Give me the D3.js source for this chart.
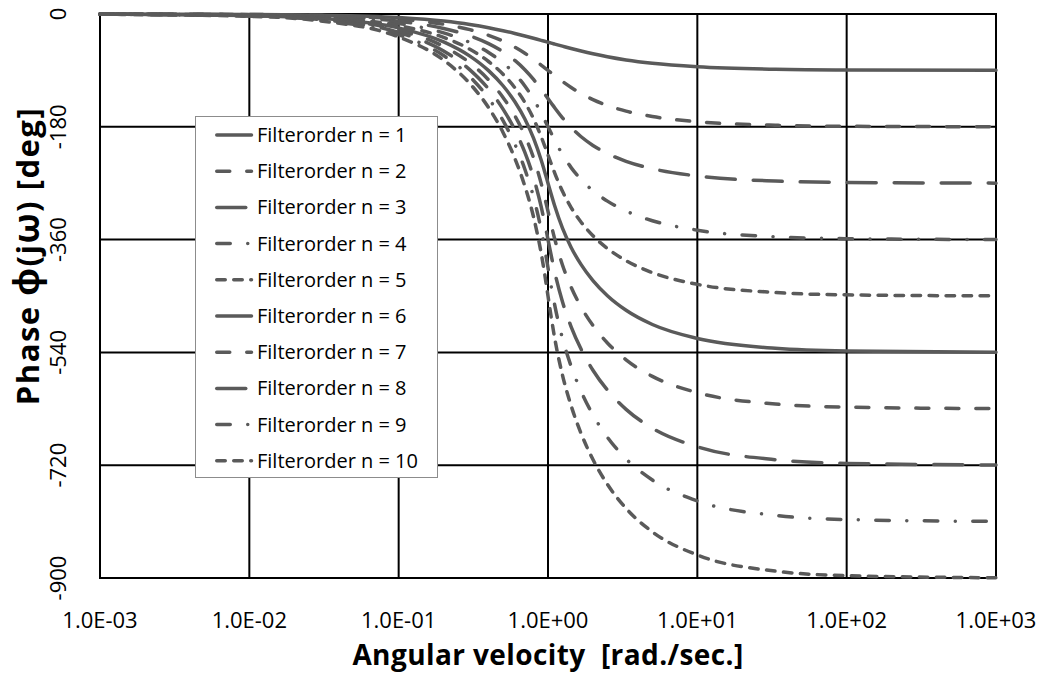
<!DOCTYPE html>
<html>
<head>
<meta charset="UTF-8">
<title>Phase</title>
<script src="https://d3js.org/d3.v7.min.js"></script>
<style>
  body { margin: 0; background: #fff; font-family: "Open Sans", sans-serif; }
  svg { display: block; }
</style>
</head>
<body>
<div id="chart"></div>
<script>
// angular velocity samples [rad/s]
const omega = [0.001, 0.01, 0.03, 0.1, 0.2, 0.3, 0.4, 0.5, 0.6, 0.7, 0.8, 0.9, 0.95, 1,
  1.053, 1.111, 1.25, 1.429, 1.667, 2, 2.5, 3.333, 5, 10, 33.33, 100, 1000];

// phase [deg] per filter order
const phaseN1 = [-0.1, -0.6, -1.7, -5.7, -11.3, -16.7, -21.8, -26.6, -31.0, -35.0, -38.7, -42.0, -43.5, -45.0, -46.5, -48.0, -51.3, -55.0, -59.0, -63.4, -68.2, -73.3, -78.7, -84.3, -88.3, -89.4, -89.9];
const phaseN2 = [-0.1, -0.8, -2.4, -8.1, -16.4, -25.0, -34.0, -43.3, -53.0, -62.7, -72.3, -81.5, -85.8, -90.0, -94.2, -98.5, -107.7, -117.3, -127.0, -136.7, -146.0, -155.0, -163.6, -171.9, -177.6, -179.2, -179.9];
const phaseN3 = [-0.1, -1.1, -3.4, -11.5, -23.1, -35.0, -47.3, -60.3, -74.1, -88.9, -104.4, -120.1, -127.7, -135.0, -142.3, -149.9, -165.6, -181.1, -195.9, -209.7, -222.7, -235.1, -246.9, -258.5, -266.6, -268.9, -269.9];
const phaseN4 = [-0.2, -1.5, -4.5, -15.0, -30.1, -45.5, -61.4, -78.0, -95.7, -114.9, -135.9, -158.1, -169.2, -180.0, -190.8, -201.9, -224.1, -245.1, -264.3, -282.0, -298.6, -314.5, -329.9, -345.0, -355.5, -358.5, -359.9];
const phaseN5 = [-0.2, -1.9, -5.6, -18.6, -37.3, -56.3, -75.8, -96.1, -117.7, -141.1, -167.1, -195.7, -210.5, -225.0, -239.5, -254.3, -282.9, -308.9, -332.3, -353.9, -374.2, -393.7, -412.7, -431.4, -444.4, -448.2, -449.8];
const phaseN6 = [-0.2, -2.2, -6.7, -22.2, -44.5, -67.2, -90.4, -114.5, -140.0, -167.5, -198.2, -233.1, -251.6, -270.0, -288.4, -306.9, -341.8, -372.5, -400.0, -425.5, -449.6, -472.8, -495.5, -517.8, -533.4, -537.8, -539.8];
const phaseN7 = [-0.3, -2.6, -7.7, -25.8, -51.8, -78.1, -105.1, -133.1, -162.4, -194.1, -229.5, -270.3, -292.6, -315.0, -337.4, -359.7, -400.5, -435.9, -467.6, -497.0, -524.9, -551.9, -578.3, -604.2, -622.3, -627.4, -629.7];
const phaseN8 = [-0.3, -2.9, -8.8, -29.4, -59.0, -89.1, -119.8, -151.7, -185.1, -220.9, -260.8, -307.5, -333.5, -360.0, -386.5, -412.6, -459.2, -499.1, -535.0, -568.4, -600.2, -630.9, -661.0, -690.6, -711.2, -717.1, -719.7];
const phaseN9 = [-0.3, -3.3, -9.9, -33.0, -66.3, -100.1, -134.6, -170.3, -207.7, -247.8, -292.3, -344.5, -374.3, -405.0, -435.8, -465.5, -517.7, -562.2, -602.3, -639.7, -675.4, -709.9, -743.7, -777.0, -800.1, -806.7, -809.7];
const phaseN10 = [-0.4, -3.7, -11.0, -36.7, -73.6, -111.1, -149.4, -189.0, -230.5, -274.8, -323.8, -381.6, -414.9, -450.0, -485.1, -518.4, -576.2, -625.2, -669.5, -711.0, -750.6, -788.9, -826.4, -863.3, -889.0, -896.3, -899.6];

const seriesNames = ["Filterorder n = 1", "Filterorder n = 2", "Filterorder n = 3", "Filterorder n = 4", "Filterorder n = 5",
  "Filterorder n = 6", "Filterorder n = 7", "Filterorder n = 8", "Filterorder n = 9", "Filterorder n = 10"];
const seriesValues = [phaseN1, phaseN2, phaseN3, phaseN4, phaseN5, phaseN6, phaseN7, phaseN8, phaseN9, phaseN10];

const xTicks = [1e-3, 1e-2, 1e-1, 1, 1e1, 1e2, 1e3];
const xTickLabels = ["1.0E-03", "1.0E-02", "1.0E-01", "1.0E+00", "1.0E+01", "1.0E+02", "1.0E+03"];
const yTicks = [0, -180, -360, -540, -720, -900];
const yTickLabels = ["0", "-180", "-360", "-540", "-720", "-900"];

// line styles, repeated for n = 1..5 and 6..10 (round caps)
const dashStyles = ["none", "13,17", "29,18", "13.5,17.5,0.01,17.5", "8.5,8.5"];
const lineColor = "#5a5a5a";

const W = 1046, H = 675;
const plot = { left: 100, right: 996, top: 14, bottom: 578 };

const svg = d3.select("#chart").append("svg")
  .attr("width", W).attr("height", H);
svg.append("rect").attr("width", W).attr("height", H).attr("fill", "#fff");

const x = d3.scaleLog().domain([1e-3, 1e3]).range([plot.left, plot.right]);
const y = d3.scaleLinear().domain([-900, 0]).range([plot.bottom, plot.top]);

// grid
const grid = svg.append("g").attr("stroke", "#000").attr("stroke-width", 2);
grid.selectAll(".vg").data(xTicks).enter().append("line")
  .attr("x1", d => x(d)).attr("x2", d => x(d))
  .attr("y1", plot.top).attr("y2", plot.bottom);
grid.selectAll(".hg").data(yTicks).enter().append("line")
  .attr("x1", plot.left - 1).attr("x2", plot.right + 1)
  .attr("y1", d => y(d)).attr("y2", d => y(d));

// tick labels
svg.append("g").selectAll("text").data(xTicks).enter().append("text")
  .attr("x", d => x(d)).attr("y", 628)
  .attr("text-anchor", "middle")
  .attr("font-size", 22).attr("fill", "#000")
  .text((d, i) => xTickLabels[i]);

svg.append("g").selectAll("text").data(yTicks).enter().append("text")
  .attr("transform", d => `translate(66,${y(d)}) rotate(-90)`)
  .attr("text-anchor", "middle")
  .attr("font-size", 22).attr("fill", "#000")
  .text((d, i) => yTickLabels[i]);

// axis titles
svg.append("text")
  .attr("x", 548).attr("y", 665)
  .attr("text-anchor", "middle")
  .attr("font-size", 28).attr("font-weight", "bold")
  .attr("letter-spacing", 0.4)
  .attr("xml:space", "preserve")
  .text("Angular velocity  [rad./sec.]");

const yTitle = svg.append("text")
  .attr("transform", "translate(39,256) rotate(-90)")
  .attr("text-anchor", "middle")
  .attr("font-size", 31).attr("font-weight", "bold")
  .attr("letter-spacing", 1.5);
yTitle.append("tspan").text("Phase ");
yTitle.append("tspan").attr("font-size", 37).text("\u03d5");
yTitle.append("tspan").text("(j");
yTitle.append("tspan").attr("font-size", 35).text("\u03c9");
yTitle.append("tspan").text(") [deg]");

// curves
const line = d3.line()
  .x(d => x(d[0]))
  .y(d => y(d[1]))
  .curve(d3.curveMonotoneX);

seriesValues.forEach((vals, i) => {
  svg.append("path")
    .datum(omega.map((w, k) => [w, vals[k]]))
    .attr("fill", "none")
    .attr("stroke", lineColor)
    .attr("stroke-width", 3.5)
    .attr("stroke-linecap", "round")
    .attr("stroke-linejoin", "round")
    .attr("stroke-dasharray", dashStyles[i % 5])
    .attr("d", line);
});

// legend
const legend = svg.append("g");
legend.append("rect")
  .attr("x", 195.5).attr("y", 116.5)
  .attr("width", 242).attr("height", 361)
  .attr("fill", "#fff").attr("stroke", "#8c8c8c").attr("stroke-width", 1);

seriesNames.forEach((name, i) => {
  const ly = 135 + i * 36.2;
  legend.append("line")
    .attr("x1", 216.75).attr("x2", 251.5)
    .attr("y1", ly).attr("y2", ly)
    .attr("stroke", lineColor).attr("stroke-width", 3.5)
    .attr("stroke-linecap", "round")
    .attr("stroke-dasharray", dashStyles[i % 5]);
  legend.append("text")
    .attr("x", 257).attr("y", ly + 7)
    .attr("font-size", 20).attr("fill", "#000")
    .text(name);
});
</script>
</body>
</html>
